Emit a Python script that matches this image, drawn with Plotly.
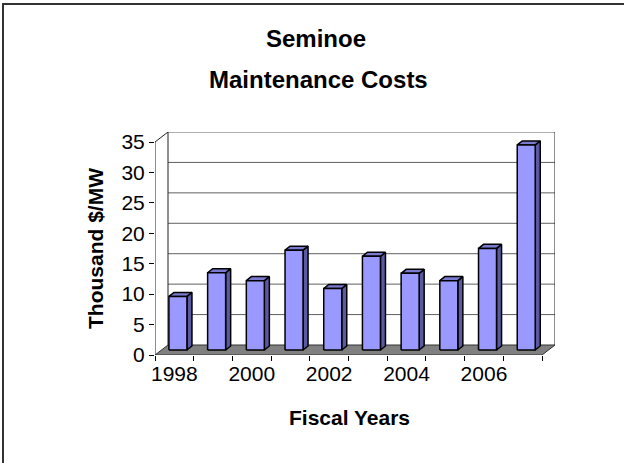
import plotly.graph_objects as go

# ---- data ----
years = [1998, 1999, 2000, 2001, 2002, 2003, 2004, 2005, 2006, 2007]
costs = [8.8, 12.7, 11.4, 16.4, 10.1, 15.4, 12.6, 11.4, 16.7, 33.7]
y_ticks = [0, 5, 10, 15, 20, 25, 30, 35]
x_label_years = [1998, 2000, 2002, 2004, 2006]

# ---- 3D-look geometry (in axis units) ----
DXD = 0.336      # depth shift along x (categories)
DYD = 1.643      # depth shift along y (value units)
BAR_X0 = -0.14   # front face left offset from category centre
BAR_W = 0.465    # front face width
BAR_BASE = 0.82  # base of bar (mid-depth of floor)
SDX = 0.13       # bar depth along x
SDY = 0.66       # bar depth along y
YMAX = 35

n = len(years)
idx = list(range(n))

fig = go.Figure()

# floor
fx = [-0.5, n - 0.5, n - 0.5 + DXD, -0.5 + DXD, -0.5]
fy = [0, 0, DYD, DYD, 0]
fig.add_trace(go.Scatter(x=fx, y=fy, fill="toself", fillcolor="#808080",
                         mode="lines", line=dict(color="#303030", width=1),
                         hoverinfo="skip", showlegend=False))

# back wall gridlines
gx, gy = [], []
for v in y_ticks[1:]:
    gx += [-0.5 + DXD, n - 0.5 + DXD, None]
    gy += [v + DYD, v + DYD, None]
fig.add_trace(go.Scatter(x=gx, y=gy, mode="lines",
                         line=dict(color="#606060", width=1),
                         hoverinfo="skip", showlegend=False))

# wall edges: left, right, and front-left axis with top diagonal
ex = [-0.5 + DXD, -0.5 + DXD, None, n - 0.5 + DXD, n - 0.5 + DXD, None,
      -0.5, -0.5, -0.5 + DXD]
ey = [DYD, YMAX + DYD, None, DYD, YMAX + DYD, None,
      0, YMAX, YMAX + DYD]
fig.add_trace(go.Scatter(x=ex, y=ey, mode="lines",
                         line=dict(color="#202020", width=1),
                         hoverinfo="skip", showlegend=False))

# bars: side faces, top faces, front faces
sx, sy, tx, ty, frx, fry = [], [], [], [], [], []
for i, v in zip(idx, costs):
    xl = i + BAR_X0
    xr = xl + BAR_W
    b = BAR_BASE
    t = BAR_BASE + v
    sx += [xr, xr + SDX, xr + SDX, xr, xr, None]
    sy += [b, b + SDY, t + SDY, t, b, None]
    tx += [xl, xl + SDX, xr + SDX, xr, xl, None]
    ty += [t, t + SDY, t + SDY, t, t, None]
    frx += [xl, xr, xr, xl, xl, None]
    fry += [b, b, t, t, b, None]

fig.add_trace(go.Scatter(x=sx, y=sy, fill="toself", fillcolor="#5a5aa0",
                         mode="lines", line=dict(color="black", width=1.5),
                         hoverinfo="skip", showlegend=False))
fig.add_trace(go.Scatter(x=tx, y=ty, fill="toself", fillcolor="#7a7ad0",
                         mode="lines", line=dict(color="black", width=1.5),
                         hoverinfo="skip", showlegend=False))
fig.add_trace(go.Scatter(x=frx, y=fry, fill="toself", fillcolor="#9999ff",
                         mode="lines", line=dict(color="black", width=1.5),
                         hoverinfo="skip", showlegend=False))

L, R, T, B = 155, 69, 132, 108
PW, PH = 624 - L - R, 463 - T - B

def px2paper_x(px):
    return (px - L) / PW

def px2paper_y(py):
    return (463 - B - py) / PH

font = "Arial, Liberation Sans, sans-serif"

fig.update_layout(
    width=624, height=463,
    margin=dict(l=L, r=R, t=T, b=B),
    paper_bgcolor="white", plot_bgcolor="white",
    showlegend=False,
    font=dict(family=font, size=20, color="black"),
    xaxis=dict(
        range=[-0.5, n - 0.5 + DXD], showgrid=False, zeroline=False,
        showline=False, tickmode="array",
        tickvals=[years.index(y) for y in x_label_years],
        ticktext=[str(y) for y in x_label_years],
        ticks="", tickfont=dict(size=21), ticklabelstandoff=4,
        minor=dict(tickmode="array",
                   tickvals=[i - 0.5 for i in range(n + 1)],
                   ticks="outside", ticklen=5, tickcolor="black",
                   tickwidth=1, showgrid=False),
        fixedrange=True,
    ),
    yaxis=dict(
        range=[0, YMAX + DYD], showgrid=False, zeroline=False,
        showline=False, tickmode="array", tickvals=y_ticks,
        ticks="outside", ticklen=5, tickcolor="black", tickwidth=1,
        tickfont=dict(size=21), fixedrange=True,
    ),
    annotations=[
        dict(text="<b>Seminoe</b>", xref="paper", yref="paper",
             x=px2paper_x(316), y=px2paper_y(39), showarrow=False,
             xanchor="center", yanchor="middle", font=dict(size=24)),
        dict(text="<b>Maintenance Costs</b>", xref="paper", yref="paper",
             x=px2paper_x(318), y=px2paper_y(79), showarrow=False,
             xanchor="center", yanchor="middle", font=dict(size=24)),
        dict(text="<b>Thousand $/MW</b>", xref="paper", yref="paper",
             x=px2paper_x(95), y=px2paper_y(249), showarrow=False,
             textangle=-90, xanchor="center", yanchor="middle",
             font=dict(size=21)),
        dict(text="<b>Fiscal Years</b>", xref="paper", yref="paper",
             x=px2paper_x(349), y=px2paper_y(417), showarrow=False,
             xanchor="center", yanchor="middle", font=dict(size=21)),
    ],
    shapes=[
        dict(type="line", xref="paper", yref="paper",
             x0=px2paper_x(2), x1=px2paper_x(624), y0=px2paper_y(4), y1=px2paper_y(4),
             line=dict(color="#333333", width=2)),
        dict(type="line", xref="paper", yref="paper",
             x0=px2paper_x(3), x1=px2paper_x(3), y0=px2paper_y(3), y1=px2paper_y(463),
             line=dict(color="#333333", width=2)),
    ],
)

fig.write_html(
    "out.html",
    config={"displayModeBar": False},
    post_script="document.body.style.margin='0';document.body.style.overflow='hidden';",
)
